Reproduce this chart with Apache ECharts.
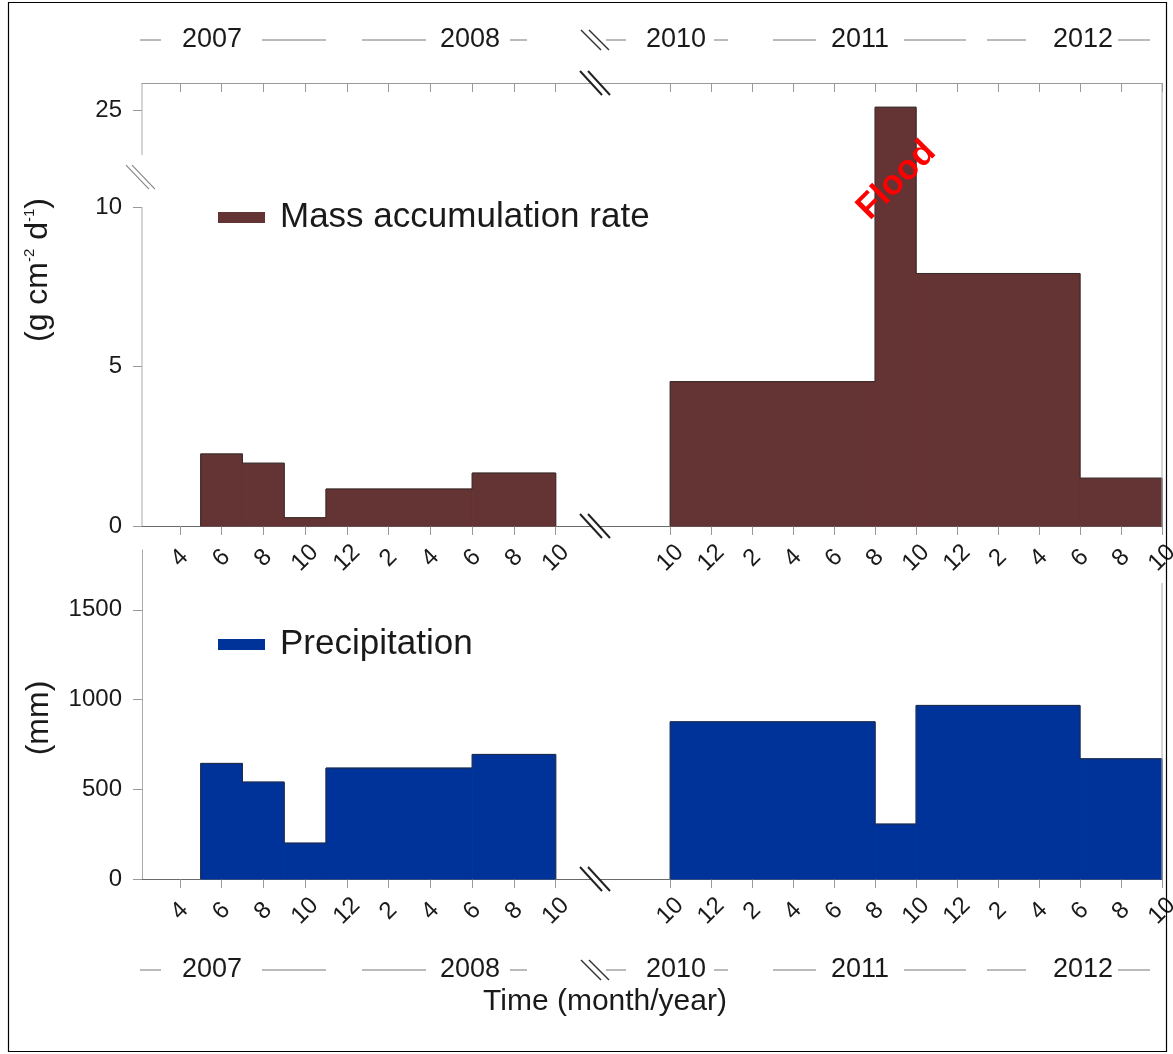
<!DOCTYPE html>
<html>
<head>
<meta charset="utf-8">
<script src="https://cdn.jsdelivr.net/npm/echarts@6.0.0/dist/echarts.min.js"></script>
<style>
  html, body { margin: 0; padding: 0; background: #fff; }
  #main { width: 1173px; height: 1054px; }
</style>
</head>
<body>
<div id="main"></div>
<script>
// ---------------- DATA ----------------
// x values are months counted from January 2007 (left) / January 2010 (right)
// each entry: [startMonth, endMonth, value]
const massLeft  = [[5, 7, 2.26], [7, 9, 1.97], [9, 11, 0.26], [11, 18, 1.16], [18, 22, 1.66]];
const massRight = [[10, 20, 4.53], [20, 22, 25.1], [22, 30, 7.92], [30, 34, 1.5]];
const precLeft  = [[5, 7, 644], [7, 9, 540], [9, 11, 200], [11, 18, 618], [18, 22, 694]];
const precRight = [[10, 20, 876], [20, 22, 306], [22, 30, 967], [30, 34, 670]];

const leftTicks  = [4, 6, 8, 10, 12, 14, 16, 18, 20, 22];
const leftTickLabels  = ['4', '6', '8', '10', '12', '2', '4', '6', '8', '10'];
const rightTicks = [10, 12, 14, 16, 18, 20, 22, 24, 26, 28, 30, 32, 34];
const rightTickLabels = ['10', '12', '2', '4', '6', '8', '10', '12', '2', '4', '6', '8', '10'];
const massTicks = [0, 5, 10, 25];
const precTicks = [0, 500, 1000, 1500];
const years = ['2007', '2008', '2010', '2011', '2012'];

// ---------------- STYLE / LAYOUT ----------------
const FONT = '"Liberation Sans", Arial, Helvetica, sans-serif';
const BROWN = '#643333';
const BLUE = '#003399';
const TXT = '#1a1a1a';

function labelFrom(ticks, labels) {
  return function (v) {
    for (let i = 0; i < ticks.length; i++) if (Math.abs(ticks[i] - v) < 1e-6) return labels[i];
    return '';
  };
}

function renderRect(params, api) {
  const x0 = api.value(0), x1 = api.value(1), v = api.value(2);
  const p0 = api.coord([x0, v]);
  const p1 = api.coord([x1, 0]);
  const c = api.visual('color');
  return {
    type: 'rect',
    shape: { x: p0[0], y: p0[1], width: p1[0] - p0[0], height: p1[1] - p0[1] },
    style: { fill: c, stroke: c, lineWidth: 1 }
  };
}
// silhouette outline of consecutive intervals, built from the same arrays
function outline(rows) {
  const pts = [[rows[0][0], 0]];
  rows.forEach(function (r) { pts.push([r[0], r[2]]); });
  const last = rows[rows.length - 1];
  pts.push([last[1], last[2]]);
  pts.push([last[1], 0]);
  return pts;
}

const bottomX = (grid, min, max, ticks, labels) => ({
  type: 'value', gridIndex: grid, position: 'bottom', min: min, max: max,
  axisLine: { show: true, onZero: false, lineStyle: { color: '#6a6a6a', width: 1.2 } },
  axisTick: { show: true, inside: false, length: 9, customValues: ticks, lineStyle: { color: '#999' } },
  axisLabel: {
    show: true, customValues: ticks, formatter: labelFrom(ticks, labels),
    rotate: 45, align: 'center', verticalAlign: 'middle', margin: 32,
    fontSize: 24, fontFamily: FONT, color: TXT
  },
  splitLine: { show: false }
});
const topX = (grid, min, max, ticks) => ({
  type: 'value', gridIndex: grid, position: 'top', min: min, max: max,
  axisLine: { show: true, onZero: false, lineStyle: { color: '#9a9a9a', width: 1 } },
  axisTick: { show: true, inside: true, length: 9, customValues: ticks, lineStyle: { color: '#9a9a9a' } },
  axisLabel: { show: false },
  splitLine: { show: false }
});

const LMIN = 2.19, LMAX = 23.88, RMIN = 6.33, RMAX = 34;
const MMAX = 25.86, PMAX = 1833;
const massBreak = { start: 10.6, end: 23.6, gap: 1.035 };

const barSeries = (name, xi, yi, rows, color) => ({
  name: name, type: 'custom', xAxisIndex: xi, yAxisIndex: yi, data: rows,
  itemStyle: { color: color }, encode: { x: [0, 1], y: 2 }, renderItem: renderRect, clip: false
});
const outlineSeries = (xi, yi, rows) => ({
  type: 'line', xAxisIndex: xi, yAxisIndex: yi, data: outline(rows), step: 'end',
  symbol: 'none', silent: true, z: 3, lineStyle: { color: '#2b2b2b', width: 0.8 }
});

const option = {
  backgroundColor: '#ffffff',
  animation: false,
  grid: [
    { left: 142, top: 83, width: 453, height: 443, outerBoundsMode: 'none' },
    { left: 595, top: 83, width: 567, height: 443, outerBoundsMode: 'none' },
    { left: 142, top: 550, width: 453, height: 329, outerBoundsMode: 'none' },
    { left: 595, top: 550, width: 567, height: 329, outerBoundsMode: 'none' }
  ],
  legend: [
    {
      data: [{ name: 'Mass accumulation rate', icon: 'rect' }],
      left: 218, top: 200, padding: 0, itemWidth: 47, itemHeight: 11,
      textStyle: { fontSize: 35, fontFamily: FONT, color: TXT, padding: [0, 0, 0, 10] },
      selectedMode: false
    },
    {
      data: [{ name: 'Precipitation', icon: 'rect' }],
      left: 218, top: 627, padding: 0, itemWidth: 47, itemHeight: 11,
      textStyle: { fontSize: 35, fontFamily: FONT, color: TXT, padding: [0, 0, 0, 10] },
      selectedMode: false
    }
  ],
  xAxis: [
    bottomX(0, LMIN, LMAX, leftTicks, leftTickLabels),
    bottomX(1, RMIN, RMAX, rightTicks, rightTickLabels),
    bottomX(2, LMIN, LMAX, leftTicks, leftTickLabels),
    bottomX(3, RMIN, RMAX, rightTicks, rightTickLabels),
    topX(0, LMIN, LMAX, leftTicks),
    topX(1, RMIN, RMAX, rightTicks)
  ],
  yAxis: [
    {
      type: 'value', gridIndex: 0, position: 'left', min: 0, max: MMAX,
      breaks: [massBreak], breakArea: { show: false },
      axisLine: { show: false },
      axisTick: { show: true, length: 9, customValues: massTicks, lineStyle: { color: '#999' } },
      axisLabel: { customValues: massTicks, formatter: v => String(v), fontSize: 24, fontFamily: FONT, color: TXT, margin: 20 },
      splitLine: { show: false }
    },
    {
      type: 'value', gridIndex: 1, position: 'right', min: 0, max: MMAX,
      breaks: [massBreak], breakArea: { show: false },
      axisLine: { show: false },
      axisTick: { show: false }, axisLabel: { show: false }, splitLine: { show: false }
    },
    {
      type: 'value', gridIndex: 2, position: 'left', min: 0, max: PMAX,
      axisLine: { show: true, lineStyle: { color: '#aaa' } },
      axisTick: { show: true, length: 9, customValues: precTicks, lineStyle: { color: '#999' } },
      axisLabel: { customValues: precTicks, formatter: v => String(v), fontSize: 24, fontFamily: FONT, color: TXT, margin: 20 },
      splitLine: { show: false }
    },
    {
      type: 'value', gridIndex: 3, position: 'right', min: 0, max: PMAX,
      axisLine: { show: false },
      axisTick: { show: false }, axisLabel: { show: false }, splitLine: { show: false }
    }
  ],
  series: [
    barSeries('Mass accumulation rate', 0, 0, massLeft, BROWN),
    barSeries('Mass accumulation rate', 1, 1, massRight, BROWN),
    barSeries('Precipitation', 2, 2, precLeft, BLUE),
    barSeries('Precipitation', 3, 3, precRight, BLUE),
    outlineSeries(0, 0, massLeft),
    outlineSeries(1, 1, massRight),
    outlineSeries(2, 2, precLeft),
    outlineSeries(3, 3, precRight)
  ]
};

const chart = echarts.init(document.getElementById('main'));
chart.setOption(option);

// ---------- decorations positioned from the library's scales ----------
const X = (axis, v) => chart.convertToPixel({ xAxisIndex: axis }, v);
const Y = (axis, v) => chart.convertToPixel({ yAxisIndex: axis }, v);

const g = [];
// frame
g.push({ type: 'rect', shape: { x: 8.5, y: 2.5, width: 1158, height: 1049 },
  style: { fill: null, stroke: '#000', lineWidth: 1.2 }, z: 1 });

// broken left y axis of the upper panel
const ax = X(0, LMIN);
g.push({ type: 'line', shape: { x1: ax, y1: Y(0, 0), x2: ax, y2: Y(0, 10) }, style: { stroke: '#aaa', lineWidth: 1 }, z: 5 });
g.push({ type: 'line', shape: { x1: ax, y1: Y(0, massBreak.end), x2: ax, y2: Y(0, MMAX) }, style: { stroke: '#aaa', lineWidth: 1 }, z: 5 });
// right frame lines
const rx = X(1, RMAX);
g.push({ type: 'line', shape: { x1: rx, y1: Y(1, 0), x2: rx, y2: Y(1, MMAX) }, style: { stroke: '#aaa', lineWidth: 1 }, z: 5 });
g.push({ type: 'line', shape: { x1: rx, y1: Y(3, 0), x2: rx, y2: Y(3, 1650) }, style: { stroke: '#aaa', lineWidth: 1 }, z: 5 });
// y-axis break symbol
const yb = (Y(0, massBreak.end) + Y(0, 10)) / 2 - 4;
[-3, 3].forEach(function (d) {
  g.push({ type: 'line', shape: { x1: ax - 13 + d, y1: yb - 12, x2: ax + 10 + d, y2: yb + 12 },
    style: { stroke: '#888', lineWidth: 1.2 }, z: 6 });
});

function slashes(cx, cy, color) {
  g.push({ type: 'polygon', shape: { points: [[cx - 14, cy - 12], [cx - 6, cy - 12], [cx + 14, cy + 12], [cx + 6, cy + 12]] },
    style: { fill: '#fff' }, z: 7 });
  [-4, 4].forEach(function (d) {
    g.push({ type: 'line', shape: { x1: cx - 11 + d, y1: cy - 12, x2: cx + 11 + d, y2: cy + 12 },
      style: { stroke: color, lineWidth: 2 }, z: 8 });
  });
}
const xb = X(0, LMAX);
slashes(xb, Y(0, 0), '#222');
slashes(xb, Y(0, MMAX), '#222');
slashes(xb, Y(2, 0), '#222');

// year rows (top and bottom)
const yearLayout = [
  { cx: 212, l: [140, 161], r: [262, 326] },
  { cx: 470, l: [362, 426], r: [510, 527] },
  { cx: 676, l: [606, 626], r: [714, 728] },
  { cx: 860, l: [773, 816], r: [904, 966] },
  { cx: 1083, l: [987, 1026], r: [1118, 1150] }
];
[40, 970].forEach(function (ry) {
  years.forEach(function (yr, i) {
    const L = yearLayout[i];
    g.push({ type: 'text', x: L.cx, y: ry, style: { text: yr, font: '27px ' + FONT, fill: TXT, align: 'center', verticalAlign: 'middle' }, z: 10 });
    [L.l, L.r].forEach(function (s) {
      g.push({ type: 'line', shape: { x1: s[0], y1: ry, x2: s[1], y2: ry }, style: { stroke: '#777', lineWidth: 1 }, z: 10 });
    });
  });
  [-4, 4].forEach(function (d) {
    g.push({ type: 'line', shape: { x1: xb - 10 + d, y1: ry - 10, x2: xb + 10 + d, y2: ry + 10 },
      style: { stroke: '#333', lineWidth: 1.5 }, z: 10 });
  });
});

// axis titles
g.push({ type: 'text', x: 38, y: 270, rotation: Math.PI / 2,
  style: { text: '(g cm{sup|-2} d{sup|-1})', font: '32px ' + FONT, fill: TXT, align: 'center', verticalAlign: 'middle',
    rich: { sup: { fontSize: 15, fontFamily: FONT, verticalAlign: 'top', fill: TXT, padding: [0, 0, 14, 0] } } }, z: 10 });
g.push({ type: 'text', x: 39, y: 718, rotation: Math.PI / 2,
  style: { text: '(mm)', font: '32px ' + FONT, fill: TXT, align: 'center', verticalAlign: 'middle' }, z: 10 });
g.push({ type: 'text', x: 605, y: 1002,
  style: { text: 'Time (month/year)', font: '30px ' + FONT, fill: TXT, align: 'center', verticalAlign: 'middle' }, z: 10 });

// Flood annotation next to the flood bar
const fx = (X(1, massRight[1][0]) + X(1, massRight[1][1])) / 2;
g.push({ type: 'text', x: fx + 1, y: Y(1, 25) + 70, rotation: Math.PI / 4,
  style: { text: 'Flood', font: 'bold 35px ' + FONT, fill: '#ff0000', align: 'center', verticalAlign: 'middle' }, z: 10 });

chart.setOption({ graphic: { elements: g } });
</script>
</body>
</html>
